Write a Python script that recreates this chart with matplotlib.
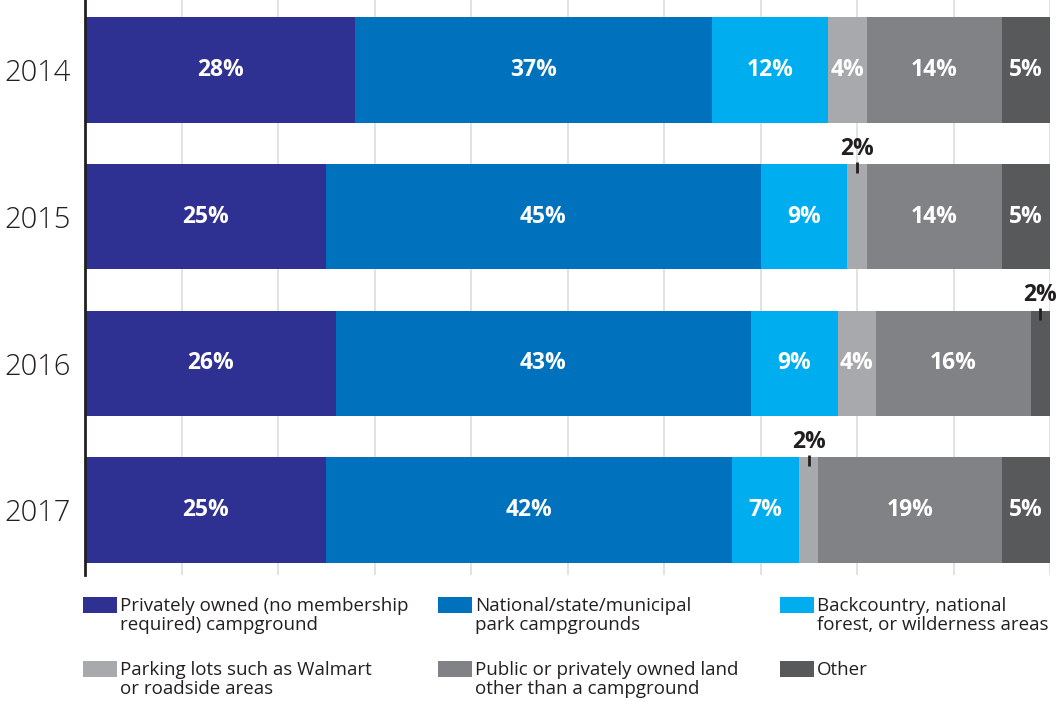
import matplotlib
matplotlib.use("Agg")
import matplotlib.pyplot as plt
from matplotlib.patches import Rectangle

years = ["2014", "2015", "2016", "2017"]
series = [
    "Privately owned (no membership\nrequired) campground",
    "National/state/municipal\npark campgrounds",
    "Backcountry, national\nforest, or wilderness areas",
    "Parking lots such as Walmart\nor roadside areas",
    "Public or privately owned land\nother than a campground",
    "Other",
]
values = [
    [28, 25, 26, 25],
    [37, 45, 43, 42],
    [12, 9, 9, 7],
    [4, 2, 4, 2],
    [14, 14, 16, 19],
    [5, 5, 2, 5],
]
colors = ["#2E3192", "#0071BC", "#00AEEF", "#A7A9AC", "#808285", "#58595B"]

FONT = "Open Sans"
plt.rcParams["font.family"] = [FONT, "DejaVu Sans"]
TXT = "#231F20"

fig = plt.figure(figsize=(10.57, 7.04), dpi=100)
ax = fig.add_axes([85 / 1057, 1 - 575 / 704, 965 / 1057, 575 / 704])

ypos = list(range(len(years)))
bar_h = 0.72
left = [0.0] * len(years)
for vals, col in zip(values, colors):
    ax.barh(ypos, vals, left=left, height=bar_h, color=col, zorder=2, linewidth=0)
    for i, v in enumerate(vals):
        cx = left[i] + v / 2
        if v > 2:
            ax.text(cx, ypos[i], f"{v}%", color="white", fontsize=16.5,
                    fontweight="bold", ha="center", va="center", zorder=3)
        else:
            top = ypos[i] - bar_h / 2
            ax.plot([cx, cx], [top - 0.014, top + 0.062], color=TXT, lw=2,
                    zorder=4, solid_capstyle="butt")
            ax.text(cx, top - 0.062, f"{v}%", color=TXT, fontsize=16.5,
                    fontweight="bold", ha="center", va="baseline", zorder=4)
    left = [l + v for l, v in zip(left, vals)]

ax.set_xlim(0, 100)
ax.set_ylim(3.443, -0.477)
ax.set_xticks(range(0, 101, 10))
ax.set_xticklabels([])
ax.tick_params(axis="x", length=0)
ax.grid(axis="x", color="#DCDDDE", lw=1.2, zorder=0)
ax.set_yticks(ypos)
ax.set_yticklabels(years, fontsize=21, color=TXT, fontweight="light")
ax.tick_params(axis="y", length=0, pad=10)
for s in ["top", "right", "bottom"]:
    ax.spines[s].set_visible(False)
ax.spines["left"].set_color(TXT)
ax.spines["left"].set_linewidth(2)
ax.spines["left"].set_zorder(5)

# legend
col_x = [83, 438, 780]
row_y = [597, 661]
W, H = 1057, 704
for k, (lab, col) in enumerate(zip(series, colors)):
    r, c = divmod(k, 3)
    x0, y0 = col_x[c], row_y[r]
    fig.add_artist(Rectangle((x0 / W, 1 - (y0 + 16) / H), 34 / W, 16 / H,
                             transform=fig.transFigure, color=col, lw=0))
    fig.text((x0 + 37) / W, 1 - y0 / H, lab, fontsize=13.5, color=TXT,
             ha="left", va="top", linespacing=1.05)

fig.savefig("out.png", dpi=100)
